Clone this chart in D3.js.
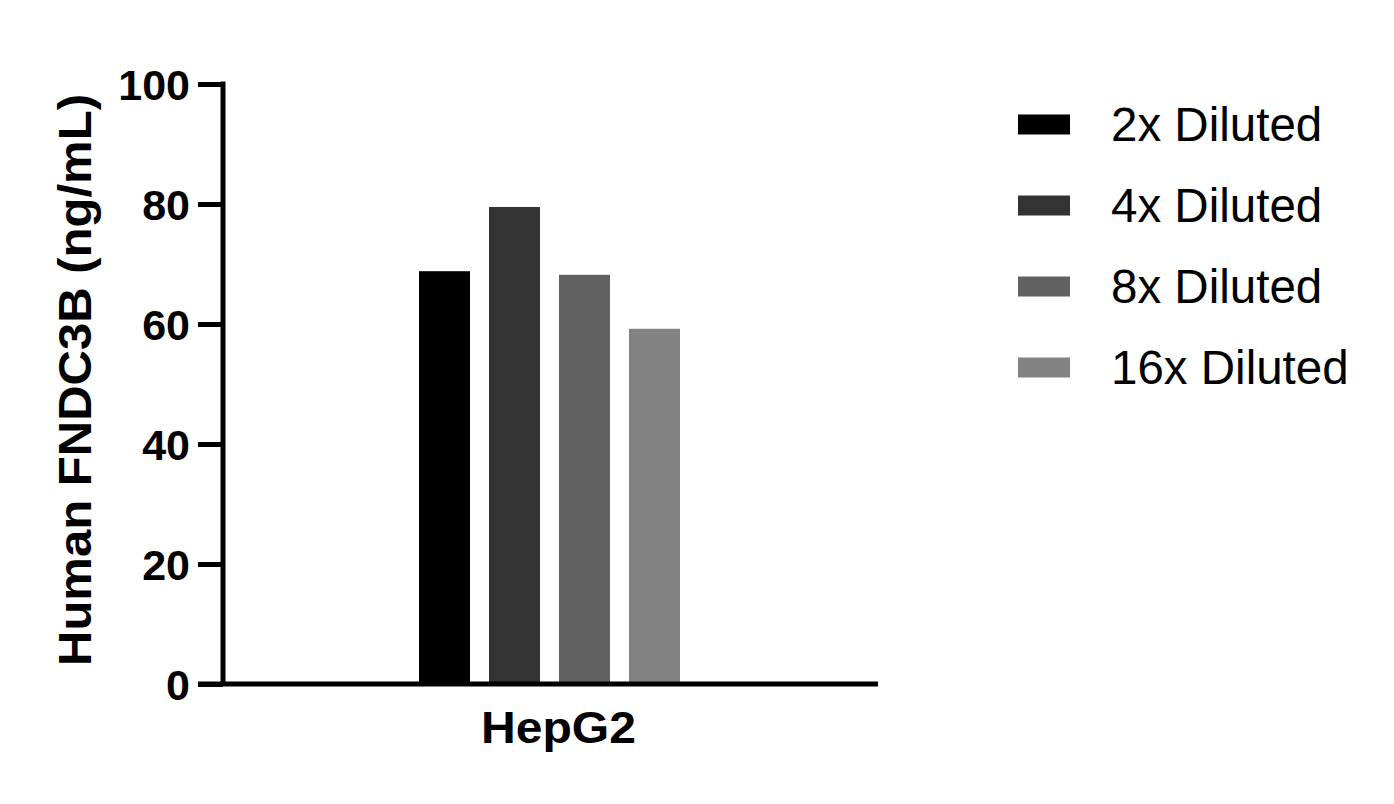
<!DOCTYPE html>
<html><head><meta charset="utf-8">
<script src="https://cdn.jsdelivr.net/npm/d3@7"></script>
<style>body{margin:0;background:#fff}svg{display:block}text{font-family:Arial,"Liberation Sans",sans-serif}</style>
</head><body>
<script>
const categories = ["HepG2"];
const seriesNames = ["2x Diluted","4x Diluted","8x Diluted","16x Diluted"];
const seriesValues = [68.8, 79.5, 68.2, 59.2];
const seriesColors = ["#000000","#333333","#616161","#828282"];
const yTicks = [0,20,40,60,80,100];
const yTitle = "Human FNDC3B (ng/mL)";

const W=1394,H=804;
const svg=d3.select("body").append("svg").attr("width",W).attr("height",H);
const x0=223,x1=878,yTop=84,yBot=684;
const y=d3.scaleLinear().domain([0,100]).range([yBot,yTop]);
const xc=d3.scaleBand().domain(categories).range([x0,x1]);
const xs=d3.scaleBand().domain(seriesNames).range([419,680]).paddingInner(19/70).paddingOuter(0);

// bars
svg.append("g").selectAll("rect").data(seriesNames).join("rect")
  .attr("x",d=>xs(d)).attr("width",xs.bandwidth())
  .attr("y",(d,i)=>y(seriesValues[i])).attr("height",(d,i)=>yBot-y(seriesValues[i]))
  .attr("fill",(d,i)=>seriesColors[i]);

// y axis
const ya=svg.append("g").attr("transform",`translate(${x0},0)`)
  .call(d3.axisLeft(y).tickValues(yTicks).tickSize(25).tickPadding(8).tickSizeOuter(0));
ya.select(".domain").attr("stroke","#000").attr("stroke-width",5).attr("d",`M0,${yTop-2.5}V${yBot}`);
ya.selectAll(".tick line").attr("stroke","#000").attr("stroke-width",5);
ya.selectAll(".tick text").attr("font-size",43).attr("font-weight","bold").attr("fill","#000").attr("dy","0.36em");

// x axis
const xa=svg.append("g").attr("transform",`translate(0,${yBot})`)
  .call(d3.axisBottom(xc).tickSize(0).tickPadding(0).tickSizeOuter(0));
xa.select(".domain").attr("stroke","#000").attr("stroke-width",5).attr("d",`M198,0H${x1}`);
xa.selectAll(".tick text").attr("font-size",45).attr("font-weight","bold").attr("fill","#000")
  .attr("dy",0).attr("y",59).attr("dx",8).attr("textLength",155).attr("lengthAdjust","spacingAndGlyphs");

// y title
svg.append("text").attr("transform","translate(91,380) rotate(-90)")
  .attr("text-anchor","middle").attr("font-size",47).attr("font-weight","bold").attr("fill","#000")
  .attr("textLength",572).attr("lengthAdjust","spacingAndGlyphs")
  .text(yTitle);

// legend
const lg=svg.append("g").selectAll("g").data(seriesNames).join("g")
  .attr("transform",(d,i)=>`translate(1018,${124.5+i*81})`);
lg.append("rect").attr("x",0).attr("y",-10).attr("width",52).attr("height",20).attr("fill",(d,i)=>seriesColors[i]);
lg.append("text").attr("x",93).attr("y",16).attr("font-size",47.5).attr("fill","#000").text(d=>d);
</script>
</body></html>
